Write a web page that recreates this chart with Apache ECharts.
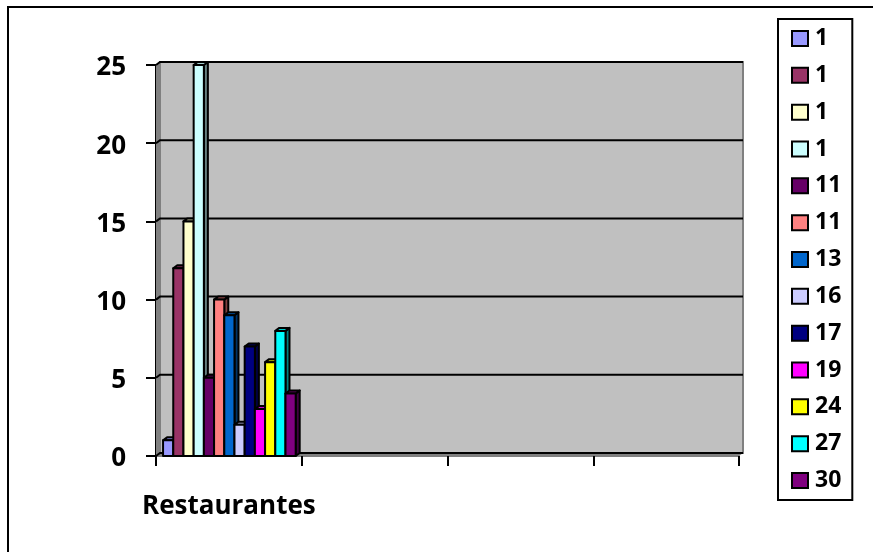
<!DOCTYPE html>
<html><head><meta charset="utf-8">
<script src="https://cdn.jsdelivr.net/npm/echarts@6/dist/echarts.min.js"></script>
<style>html,body{margin:0;padding:0;background:#fff}#c{width:873px;height:552px}</style>
</head><body><div id="c"></div>
<script>
var categories = ['Restaurantes', '', '', ''];
var seriesLabels = ['1','1','1','1','11','11','13','16','17','19','24','27','30'];
var seriesValues = [1,12,15,25,5,10,9,2,7,3,6,8,4];
var seriesColors = ['#9999FF','#993366','#FFFFCC','#CCFFFF','#660066','#FF8080','#0066CC','#CCCCFF','#000080','#FF00FF','#FFFF00','#00FFFF','#800080'];
var yTicks = [0,5,10,15,20,25];

var FONT = '"Open Sans"';
var DX = 4, DY = 3;

function shade(hex, f){
  var n = parseInt(hex.slice(1),16);
  var r=(n>>16)&255,g=(n>>8)&255,b=n&255;
  return 'rgb('+Math.round(r*f)+','+Math.round(g*f)+','+Math.round(b*f)+')';
}
function renderWall(params, api){
  var cs = params.coordSys;
  var x0=cs.x, x1=cs.x+cs.width, y0=cs.y, y1=cs.y+cs.height;
  return {type:'group', children:[
    {type:'rect', shape:{x:x0+DX,y:y0-DY,width:cs.width,height:cs.height}, style:{fill:'#C0C0C0',stroke:'#808080',lineWidth:2}},
    {type:'polygon', shape:{points:[[x0,y0],[x0+DX,y0-DY],[x0+DX,y1-DY],[x0,y1]]}, style:{fill:'#808080'}},
    {type:'polygon', shape:{points:[[x0,y1],[x0+DX,y1-DY],[x1+DX,y1-DY],[x1,y1]]}, style:{fill:'#808080'}}
  ]};
}
function renderGrid(params, api){
  var cs = params.coordSys;
  var p = api.coord([0, api.value(0)]);
  var y = p[1];
  return {type:'polyline', shape:{points:[[cs.x,y],[cs.x+DX,y-DY],[cs.x+cs.width+DX,y-DY]]},
          style:{fill:null,stroke:'#000',lineWidth:2}};
}
function makeBar(i){
  return function(params, api){
    var band = api.size([1,0])[0];
    var groupW = band*0.91;
    var w = groupW/seriesValues.length;
    var c = api.coord([api.value(0), api.value(1)]);
    var base = api.coord([api.value(0), 0]);
    var l = c[0]-groupW/2 + w*i + 0.5, r = l+w, t = c[1], b = base[1];
    var col = seriesColors[i];
    var st = {stroke:'#000',lineWidth:2,lineJoin:'round'};
    return {type:'group', children:[
      {type:'polygon', shape:{points:[[r,t],[r+DX,t-DY],[r+DX,b-DY],[r,b]]}, style:Object.assign({fill:shade(col,0.5)},st)},
      {type:'polygon', shape:{points:[[l,t],[l+DX,t-DY],[r+DX,t-DY],[r,t]]}, style:Object.assign({fill:shade(col,0.8)},st)},
      {type:'rect', shape:{x:l,y:t,width:w,height:b-t}, style:Object.assign({fill:col},st)}
    ]};
  };
}

var series = [
  {type:'custom', name:'wall', silent:true, z:1, clip:false, coordinateSystem:'cartesian2d', data:[[0,0]], renderItem:renderWall, encode:{x:0,y:1}},
  {type:'custom', name:'grid', silent:true, z:2, clip:false, coordinateSystem:'cartesian2d', data:yTicks.map(function(v){return [v];}), renderItem:renderGrid, encode:{y:0}}
];
seriesValues.forEach(function(v,i){
  series.push({type:'custom', name:'s'+i, z:3, clip:false, coordinateSystem:'cartesian2d',
    itemStyle:{color:seriesColors[i]}, data:[[0,v]], encode:{x:0,y:1}, renderItem:makeBar(i)});
});

var chart = echarts.init(document.getElementById('c'), null, {renderer:'canvas'});
chart.setOption({
  animation:false,
  backgroundColor:'#fff',
  tooltip:{show:false},
  graphic:[{type:'polyline', z:0, silent:true, shape:{points:[[8,552],[8,7],[873,7]]}, style:{fill:null,stroke:'#000',lineWidth:2}}],
  grid:{left:156, right:134, top:65, bottom:96, containLabel:false},
  xAxis:{type:'category', data:categories, boundaryGap:true,
    axisLine:{show:true,lineStyle:{color:'#808080',width:2}},
    axisTick:{show:true,alignWithLabel:false,length:10,lineStyle:{color:'#000',width:2}},
    axisLabel:{show:true,interval:0,margin:38,color:'#000',fontFamily:FONT,fontWeight:'bold',fontSize:26},
    splitLine:{show:false}},
  yAxis:{type:'value', min:0, max:25, interval:5,
    axisLine:{show:true,lineStyle:{color:'#000',width:2}},
    axisTick:{show:true,length:10,lineStyle:{color:'#000',width:2}},
    axisLabel:{color:'#000',margin:30,fontFamily:FONT,fontWeight:'bold',fontSize:26,verticalAlign:'top',lineHeight:6},
    splitLine:{show:false}},
  legend:{orient:'vertical', left:778, top:19,
    data:seriesValues.map(function(v,i){return 's'+i;}),
    icon:'rect', itemWidth:16, itemHeight:15, itemGap:13.83,
    padding:[8,11,8,13], borderColor:'#000', borderWidth:2, backgroundColor:'#fff',
    itemStyle:{borderColor:'#000',borderWidth:2},
    selectedMode:false,
    textStyle:{color:'#000',fontFamily:FONT,fontWeight:'bold',fontSize:23,lineHeight:22,padding:[0,0,0,2]},
    formatter:function(n){return seriesLabels[+n.slice(1)];}},
  series:series
});
</script></body></html>
